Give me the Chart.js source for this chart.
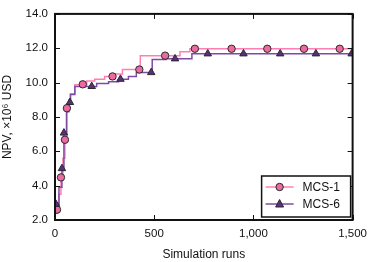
<!DOCTYPE html>
<html>
<head>
<meta charset="utf-8">
<script src="https://cdn.jsdelivr.net/npm/chart.js@4.4.1/dist/chart.umd.min.js"></script>
<style>
  html, body { margin: 0; padding: 0; background: #fff; }
  #wrap { width: 374px; height: 262px; }
</style>
</head>
<body>
<div id="wrap"><canvas id="npvPlot"></canvas></div>
<script>
// best-so-far NPV (x10^6 USD) against simulation runs
var mcs1Runs = [3, 10, 20, 30, 40, 50, 60, 70, 78, 100, 160, 200, 250, 300, 340, 425, 430, 625, 630, 680, 1500];
var mcs1Npv  = [2.4, 2.6, 3.5, 4.48, 5.6, 6.67, 8.51, 9.0, 9.35, 9.88, 10.1, 10.2, 10.36, 10.5, 10.76, 10.76, 11.57, 11.57, 11.8, 11.97, 11.97];
var mcs6Runs = [0, 5, 20, 35, 45, 58, 70, 78, 100, 210, 270, 320, 370, 410, 485, 490, 560, 690, 1500];
var mcs6Npv  = [2.8, 2.92, 3.9, 5.0, 7.07, 8.3, 8.85, 9.3, 9.78, 9.95, 10.05, 10.2, 10.35, 10.59, 10.59, 11.34, 11.39, 11.68, 11.68];

// marker positions
var mcs1MarkRuns = [10, 30, 50, 60, 140, 290, 425, 555, 705, 890, 1070, 1255, 1435];
var mcs1MarkNpv  = [2.6, 4.48, 6.67, 8.51, 9.9, 10.36, 10.76, 11.57, 11.97, 11.97, 11.97, 11.97, 11.97];
var mcs6MarkRuns = [5, 35, 45, 75, 185, 330, 485, 605, 770, 950, 1135, 1315, 1495];
var mcs6MarkNpv  = [2.92, 5.0, 7.07, 8.85, 9.78, 10.2, 10.59, 11.39, 11.68, 11.68, 11.68, 11.68, 11.68];

var yTicks = [2, 4, 6, 8, 10, 12, 14];
var xTicks = [0, 500, 1000, 1500];
var seriesNames = ['MCS-1', 'MCS-6'];

var PINK_LINE = '#ff7fb2', PINK_FILL = '#ec6aa2';
var PURP_LINE = '#7d4ba3', PURP_FILL = '#5c2d84';
var EDGE = '#2a2a2a';
var FONT = 'Liberation Sans, Arial, Helvetica, sans-serif';

function pts(xs, ys) {
    var out = [];
    for (var i = 0; i < xs.length; i++) out.push({x: xs[i], y: ys[i]});
    return out;
}

// frame round the plot + inward ticks on all four sides
var framePlugin = {
    id: 'frame',
    afterDatasetsDraw: function(chart) {
        var ctx = chart.ctx, a = chart.chartArea;
        var xs = chart.scales.x, ys = chart.scales.y;
        ctx.save();
        ctx.strokeStyle = '#111';
        ctx.lineWidth = 1;
        xTicks.forEach(function(v) {
            var px = Math.round(xs.getPixelForValue(v)) + 0.5;
            ctx.beginPath();
            ctx.moveTo(px, a.bottom); ctx.lineTo(px, a.bottom - 5);
            ctx.moveTo(px, a.top); ctx.lineTo(px, a.top + 5);
            ctx.stroke();
        });
        yTicks.forEach(function(v) {
            var py = Math.round(ys.getPixelForValue(v)) + 0.5;
            ctx.beginPath();
            ctx.moveTo(a.left, py); ctx.lineTo(a.left + 5, py);
            ctx.moveTo(a.right, py); ctx.lineTo(a.right - 5, py);
            ctx.stroke();
        });
        ctx.lineWidth = 2;
        ctx.strokeRect(a.left, a.top, a.right - a.left, a.bottom - a.top);
        ctx.restore();
    }
};

// legend box in lower right, line with marker
var legendPlugin = {
    id: 'boxLegend',
    afterDraw: function(chart) {
        var ctx = chart.ctx, a = chart.chartArea;
        var w = 89, h = 41;
        var x0 = a.right - w - 2, y0 = a.bottom - h - 3;
        ctx.save();
        ctx.fillStyle = '#fff';
        ctx.fillRect(x0, y0, w, h);
        ctx.strokeStyle = '#111';
        ctx.lineWidth = 1.5;
        ctx.strokeRect(x0, y0, w, h);
        var styles = [
            {line: PINK_LINE, fill: PINK_FILL, shape: 'circle'},
            {line: PURP_LINE, fill: PURP_FILL, shape: 'triangle'}
        ];
        for (var i = 0; i < 2; i++) {
            var cy = y0 + 11 + i * 17;
            ctx.strokeStyle = styles[i].line;
            ctx.lineWidth = 1.5;
            ctx.beginPath();
            ctx.moveTo(x0 + 4, cy); ctx.lineTo(x0 + 32, cy);
            ctx.stroke();
            ctx.fillStyle = styles[i].fill;
            ctx.strokeStyle = EDGE;
            ctx.lineWidth = 1;
            ctx.beginPath();
            if (styles[i].shape == 'circle') {
                ctx.arc(x0 + 18, cy, 3.7, 0, Math.PI * 2);
            } else {
                ctx.moveTo(x0 + 18, cy - 4.5);
                ctx.lineTo(x0 + 22, cy + 3);
                ctx.lineTo(x0 + 14, cy + 3);
                ctx.closePath();
            }
            ctx.fill();
            ctx.stroke();
            ctx.fillStyle = '#111';
            ctx.font = '12px ' + FONT;
            ctx.textBaseline = 'middle';
            ctx.fillText(seriesNames[i], x0 + 41, cy + 1);
        }
        ctx.restore();
    }
};

var npvPlot = new Chart(document.getElementById('npvPlot'), {
    type: 'scatter',
    data: {
        datasets: [{
            label: seriesNames[0] + ' line',
            data: pts(mcs1Runs, mcs1Npv),
            showLine: true, stepped: true,
            borderColor: PINK_LINE, borderWidth: 1.5,
            pointRadius: 0, order: 3
        }, {
            label: seriesNames[1] + ' line',
            data: pts(mcs6Runs, mcs6Npv),
            showLine: true, stepped: true,
            borderColor: PURP_LINE, borderWidth: 1.5,
            pointRadius: 0, order: 2
        }, {
            label: seriesNames[0],
            data: pts(mcs1MarkRuns, mcs1MarkNpv),
            showLine: false, pointStyle: 'circle', pointRadius: 3.7,
            backgroundColor: PINK_FILL, borderColor: EDGE, borderWidth: 1,
            order: 1
        }, {
            label: seriesNames[1],
            data: pts(mcs6MarkRuns, mcs6MarkNpv),
            showLine: false, pointStyle: 'triangle', pointRadius: 4.3,
            backgroundColor: PURP_FILL, borderColor: EDGE, borderWidth: 1,
            order: 0
        }]
    },
    options: {
        responsive: true,
        maintainAspectRatio: false,
        animation: false,
        layout: { padding: { left: 0, right: 19, top: 13, bottom: 0 } },
        plugins: { legend: { display: false }, tooltip: { enabled: false } },
        scales: {
            x: {
                type: 'linear', min: 0, max: 1500,
                afterBuildTicks: function(s) { s.ticks = xTicks.map(function(v) { return {value: v}; }); },
                afterFit: function(s) { s.height = 42; },
                grid: { display: false, drawTicks: false },
                border: { display: false },
                ticks: { padding: 7, color: '#111', font: { family: FONT, size: 11.5 }, maxRotation: 0 },
                title: { display: true, text: 'Simulation runs', color: '#111', padding: { top: 4, bottom: 0 },
                         font: { family: FONT, size: 12 } }
            },
            y: {
                type: 'linear', min: 2, max: 14,
                afterBuildTicks: function(s) { s.ticks = yTicks.map(function(v) { return {value: v}; }); },
                afterFit: function(s) { s.width = 55; },
                grid: { display: false, drawTicks: false },
                border: { display: false },
                ticks: { padding: 7, color: '#111', font: { family: FONT, size: 11.5 },
                         callback: function(v) { return v.toFixed(1); } },
                title: { display: true, text: 'NPV, \u00d710\u2076 USD', color: '#111', padding: { top: 0, bottom: 2 },
                         font: { family: FONT, size: 12 } }
            }
        }
    },
    plugins: [framePlugin, legendPlugin]
});
</script>
</body>
</html>
